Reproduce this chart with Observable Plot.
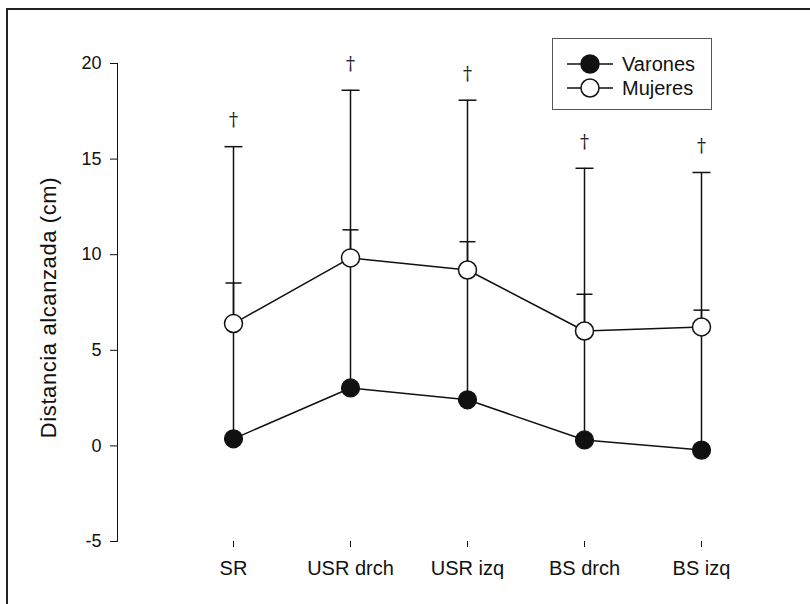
<!DOCTYPE html>
<html>
<head>
<meta charset="utf-8">
<script src="https://cdn.jsdelivr.net/npm/d3@7"></script>
<script src="https://cdn.jsdelivr.net/npm/@observablehq/plot@0.6"></script>
<style>
  html, body { margin: 0; padding: 0; background: #fff; }
  #wrap { position: relative; width: 810px; height: 604px; overflow: hidden; font-family: "Liberation Sans", Arial, sans-serif; }
  #border { position: absolute; left: 6px; top: 8px; width: 820px; height: 620px; border-top: 2px solid #222; border-left: 2px solid #222; pointer-events: none; }
  #legend { position: absolute; left: 552px; top: 38px; width: 158px; height: 70px; border: 1.5px solid #555; background: #fff; }
  #legend .row { position: absolute; left: 0; height: 24px; display: flex; align-items: center; font-size: 20px; color: #111; }
  #legend svg { display: block; }
  .ylab text { letter-spacing: 0.6px; }
</style>
</head>
<body>
<div id="wrap">
  <div id="chart"></div>
  <div id="border"></div>
  <div id="legend"></div>
</div>
<script>
const categories = ["SR", "USR drch", "USR izq", "BS drch", "BS izq"];
const varonesMean = [0.37, 3.03, 2.41, 0.31, -0.22];
const varonesUpper = [8.52, 11.3, 10.68, 7.93, 7.1];
const mujeresMean = [6.40, 9.83, 9.2, 6.01, 6.22];
const mujeresUpper = [15.65, 18.6, 18.08, 14.52, 14.3];
const daggerMarks = ["†", "†", "†", "†", "†"];
const yTicks = [-5, 0, 5, 10, 15, 20];
const yLabel = "Distancia alcanzada (cm)";
const seriesNames = ["Varones", "Mujeres"];

const varones = categories.map((c, i) => ({cat: c, mean: varonesMean[i], upper: varonesUpper[i]}));
const mujeres = categories.map((c, i) => ({cat: c, mean: mujeresMean[i], upper: mujeresUpper[i], mark: daggerMarks[i]}));

const capSymbol = {
  draw(ctx, size) {
    const r = Math.sqrt(size / Math.PI);
    ctx.moveTo(-r, 0);
    ctx.lineTo(r, 0);
  }
};

const ink = "#111";

const chart = Plot.plot({
  width: 810,
  height: 604,
  marginLeft: 117,
  marginRight: 0,
  marginTop: 63,
  marginBottom: 63,
  style: {fontFamily: "Liberation Sans, Arial, sans-serif", fontSize: "18px", color: "#111", background: "transparent"},
  x: {type: "point", domain: categories, range: [233, 701], padding: 0, label: null, tickSize: 6, tickPadding: 13, line: true},
  y: {domain: [-5, 20], ticks: yTicks, tickFormat: d => String(d), label: null, tickSize: 7, tickPadding: 9, line: true},
  marks: [
    Plot.axisX({tickSize: 6, tickPadding: 13, fontSize: 20, label: null}),
    Plot.ruleX(varones, {x: "cat", y1: "mean", y2: "upper", stroke: ink, strokeWidth: 1.5}),
    Plot.ruleX(mujeres, {x: "cat", y1: "mean", y2: "upper", stroke: ink, strokeWidth: 1.5}),
    Plot.dot(varones, {x: "cat", y: "upper", symbol: capSymbol, r: 8, stroke: ink, strokeWidth: 1.5, fill: "none"}),
    Plot.dot(mujeres, {x: "cat", y: "upper", symbol: capSymbol, r: 9, stroke: ink, strokeWidth: 1.5, fill: "none"}),
    Plot.text(mujeres, {x: "cat", y: "upper", text: "mark", dy: -26, fontSize: 18, fontFamily: "DejaVu Serif, serif", fill: "#222"}),
    Plot.line(varones, {x: "cat", y: "mean", stroke: ink, strokeWidth: 1.5}),
    Plot.line(mujeres, {x: "cat", y: "mean", stroke: ink, strokeWidth: 1.5}),
    Plot.dot(varones, {x: "cat", y: "mean", r: 9, fill: ink, stroke: ink, strokeWidth: 1.2}),
    Plot.dot(mujeres, {x: "cat", y: "mean", r: 9, fill: "#fff", stroke: ink, strokeWidth: 1.5}),
    Plot.text([yLabel], {frameAnchor: "left", textAnchor: "middle", dx: -69, dy: 5, rotate: -90, fontSize: 22, fill: "#111", className: "ylab"})
  ]
});
document.getElementById("chart").appendChild(chart);

// Legend (drawn inside the plot area, as in the reference)
const legend = d3.select("#legend");
seriesNames.forEach((name, i) => {
  const row = legend.append("div").attr("class", "row").style("top", (13 + i * 24) + "px").style("left", "12px");
  const s = row.append("svg").attr("width", 57).attr("height", 24);
  s.append("line").attr("x1", 2).attr("x2", 48).attr("y1", 12).attr("y2", 12).attr("stroke", ink).attr("stroke-width", 1.5);
  s.append("circle").attr("cx", 25).attr("cy", 12).attr("r", 9)
    .attr("fill", i === 0 ? ink : "#fff").attr("stroke", ink).attr("stroke-width", 1.5);
  row.append("span").text(name);
});
</script>
</body>
</html>
